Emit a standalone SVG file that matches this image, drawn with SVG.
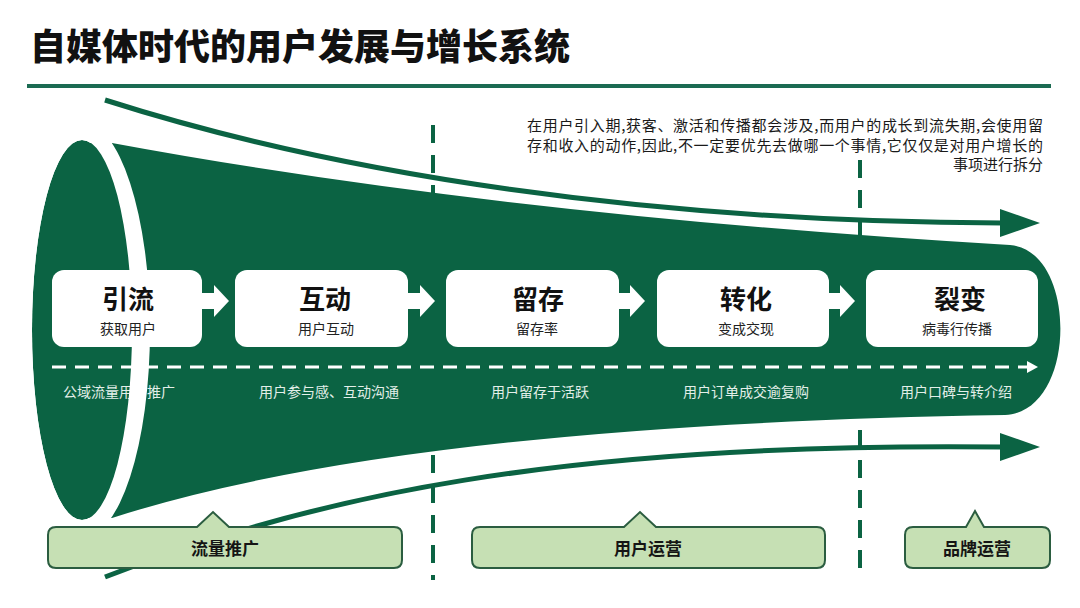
<svg xmlns="http://www.w3.org/2000/svg" width="1080" height="608" viewBox="0 0 1080 608">
<defs>
<style>
.cjk{font-family:"Noto Sans CJK SC","Liberation Sans",sans-serif;}
.title{font-size:36px;font-weight:900;fill:#111;}
.desc{font-size:15px;fill:#1a1a1a;}
.bt{font-size:26px;font-weight:700;fill:#111;text-anchor:middle;}
.bs{font-size:14px;fill:#222;text-anchor:middle;}
.lab{font-size:14px;fill:#e3efe9;text-anchor:middle;}
.bl{font-size:17px;font-weight:700;fill:#151515;text-anchor:middle;}
.box{fill:#ffffff;}
.tag{fill:#c6e0b4;stroke:#2b5d40;stroke-width:2;}
.garr{fill:none;stroke:#0b6343;stroke-width:5;}
.div{stroke:#0b6343;stroke-width:4;stroke-dasharray:18 12;}
</style>
</defs>
<rect width="1080" height="608" fill="#ffffff"/>
<text class="cjk title" x="30" y="60">自媒体时代的用户发展与增长系统</text>
<rect x="27" y="84" width="1024" height="4" fill="#1b6b52"/>

<g id="funnel">
<path d="M80,143 L112,143 Q500,215 1010,245 C1078,250 1078,412 1005,415 Q400,425 112,518 L80,518 Z" fill="#0b6343"/>
<ellipse cx="82" cy="330" rx="50" ry="190" fill="#0b6343"/>
</g>

<g id="connectors">
<path class="garr" d="M105,100 C340,175 650,222 1002,223"/>
<polygon points="1000,209 1040,223 1000,237" fill="#0b6343"/>
<path class="garr" d="M105,577 C310,497 560,442 1002,447"/>
<polygon points="1000,433 1040,447 1000,461" fill="#0b6343"/>
<line class="div" x1="433" y1="125" x2="433" y2="580"/>
<line class="div" x1="860" y1="160" x2="860" y2="580"/>
<line x1="52" y1="367" x2="1028" y2="367" stroke="#ffffff" stroke-width="3" stroke-dasharray="14 9"/>
<polygon points="1027,361 1038,367 1027,373" fill="#ffffff"/>
</g>

<g id="labels" class="cjk">
<text class="lab" x="119" y="397">公域流量用户推广</text>
<text class="lab" x="329" y="397">用户参与感、互动沟通</text>
<text class="lab" x="540" y="397">用户留存于活跃</text>
<text class="lab" x="746" y="397">用户订单成交逾复购</text>
<text class="lab" x="956" y="397">用户口碑与转介绍</text>
</g>

<path id="band" fill="#ffffff" fill-rule="evenodd" d="M14,330 A68,208 0 1,0 150,330 A68,208 0 1,0 14,330 Z M32,330 A50,190 0 1,0 132,330 A50,190 0 1,0 32,330 Z"/>

<g id="stage-arrows" fill="#ffffff">
<polygon points="202,293 214,293 214,285 229,301 214,317 214,309 202,309"/>
<polygon points="408,293 420,293 420,285 435,301 420,317 420,309 408,309"/>
<polygon points="618,293 630,293 630,285 645,301 630,317 630,309 618,309"/>
<polygon points="828,293 840,293 840,285 855,301 840,317 840,309 828,309"/>
</g>

<g id="n1" class="cjk"><rect class="box" x="52" y="270" width="150" height="77" rx="12"/><text class="bt" x="128" y="309">引流</text><text class="bs" x="128" y="334">获取用户</text></g>
<g id="n2" class="cjk"><rect class="box" x="235" y="270" width="173" height="77" rx="12"/><text class="bt" x="325" y="309">互动</text><text class="bs" x="326" y="334">用户互动</text></g>
<g id="n3" class="cjk"><rect class="box" x="446" y="270" width="173" height="77" rx="12"/><text class="bt" x="538" y="309">留存</text><text class="bs" x="537" y="334">留存率</text></g>
<g id="n4" class="cjk"><rect class="box" x="657" y="270" width="172" height="77" rx="12"/><text class="bt" x="746" y="309">转化</text><text class="bs" x="746" y="334">变成交现</text></g>
<g id="n5" class="cjk"><rect class="box" x="866" y="270" width="172" height="77" rx="12"/><text class="bt" x="960" y="309">裂变</text><text class="bs" x="957" y="334">病毒行传播</text></g>

<g id="desc" class="cjk desc">
<text x="1043" y="131" text-anchor="end" textLength="516" lengthAdjust="spacing">在用户引入期,获客、激活和传播都会涉及,而用户的成长到流失期,会使用留</text>
<text x="1043" y="151" text-anchor="end" textLength="516" lengthAdjust="spacing">存和收入的动作,因此,不一定要优先去做哪一个事情,它仅仅是对用户增长的</text>
<text x="1043" y="170" text-anchor="end">事项进行拆分</text>
</g>

<g id="t1" class="cjk"><path class="tag" d="M56,527 H197 L213,512 L229,527 H394 Q402,527 402,535 V560 Q402,568 394,568 H56 Q48,568 48,560 V535 Q48,527 56,527 Z"/><text class="bl" x="225" y="555">流量推广</text></g>
<g id="t2" class="cjk"><path class="tag" d="M480,527 H624 L640,512 L656,527 H817 Q825,527 825,535 V560 Q825,568 817,568 H480 Q472,568 472,560 V535 Q472,527 480,527 Z"/><text class="bl" x="648" y="555">用户运营</text></g>
<g id="t3" class="cjk"><path class="tag" d="M913,527 H966 L975,511 L984,527 H1042 Q1050,527 1050,535 V560 Q1050,568 1042,568 H913 Q905,568 905,560 V535 Q905,527 913,527 Z"/><text class="bl" x="977" y="555">品牌运营</text></g>
</svg>
